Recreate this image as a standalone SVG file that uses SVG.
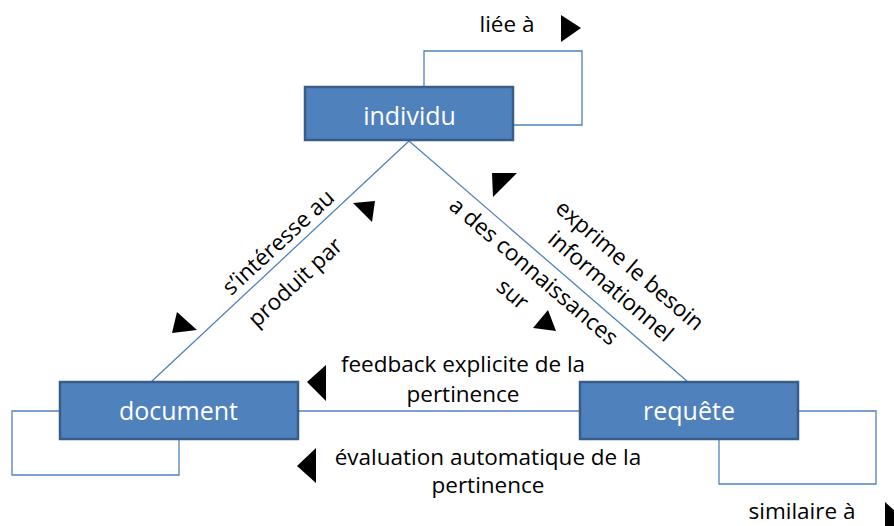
<svg xmlns="http://www.w3.org/2000/svg" width="894" height="526" viewBox="0 0 894 526">
<style>
.node{fill:#4f81bd;stroke:#385d8a;stroke-width:2.5}
.ntxt{font-family:"Open Sans","DejaVu Sans",sans-serif;font-size:25px;fill:#ffffff;text-anchor:middle}
.lbl{font-family:"Open Sans","DejaVu Sans",sans-serif;font-size:22.5px;fill:#000000;text-anchor:middle}
.con{fill:none;stroke:#4f81bd;stroke-width:1.3}
.tri{fill:#000000}
</style>
<rect width="894" height="526" fill="#ffffff"/>
<g id="connectors">
<polyline class="con" points="424,87 424,51 582,51 582,125 513,125"/>
<line class="con" x1="409" y1="141" x2="151" y2="382"/>
<line class="con" x1="409" y1="141" x2="688" y2="382"/>
<line class="con" x1="298" y1="411" x2="580" y2="411"/>
<polyline class="con" points="60,411 12,411 12,475 179,475 179,439"/>
<polyline class="con" points="798,411 876,411 876,484 719,484 719,439"/>
</g>
<g id="individu">
<rect class="node" x="305" y="87" width="208" height="53"/>
<text class="ntxt" x="409.5" y="125">individu</text>
</g>
<g id="document">
<rect class="node" x="60" y="382" width="238" height="57"/>
<text class="ntxt" x="178.5" y="420">document</text>
</g>
<g id="requete">
<rect class="node" x="580" y="382" width="218" height="57"/>
<text class="ntxt" x="689" y="420">requête</text>
</g>
<g id="labels">
<text class="lbl" x="507" y="32">liée à</text>
<polygon class="tri" points="561,15 581,28 561,42"/>
<text class="lbl" x="463" y="372">feedback explicite de la</text>
<text class="lbl" x="463" y="402">pertinence</text>
<polygon class="tri" points="307,382 326,365 326,401"/>
<text class="lbl" x="488" y="465">évaluation automatique de la</text>
<text class="lbl" x="488" y="493">pertinence</text>
<polygon class="tri" points="297,466 316,448 316,483"/>
<text class="lbl" x="802" y="519">similaire à</text>
<polygon class="tri" points="885,502 907,522 885,542"/>
<text class="lbl" transform="translate(278,242) rotate(-42.8)" y="8">s’intéresse au</text>
<text class="lbl" transform="translate(295,282) rotate(-42.8)" y="8">produit par</text>
<polygon class="tri" points="177,312 172,333 197,330"/>
<polygon class="tri" points="353,203 375,201 372,222"/>
<text class="lbl" transform="translate(534,271) rotate(40.6)" y="8">a des connaissances</text>
<text class="lbl" transform="translate(513,294) rotate(40.6)" y="8">sur</text>
<text class="lbl" transform="translate(630,265) rotate(40.6)" y="8">exprime le besoin</text>
<text class="lbl" transform="translate(611,286) rotate(40.6)" y="8">informationnel</text>
<polygon class="tri" points="492,173 517,173 493,197"/>
<polygon class="tri" points="533,328 548,310 556,331"/>
</g>
</svg>
